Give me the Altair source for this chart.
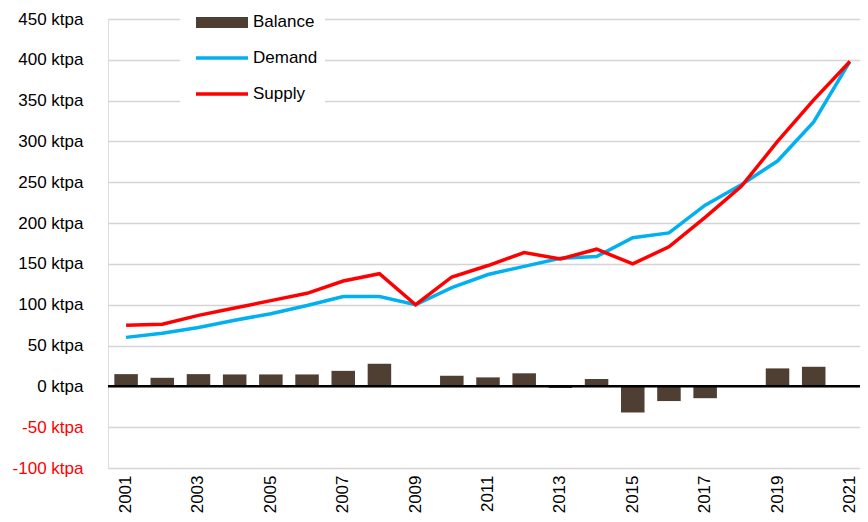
import altair as alt
import pandas as pd

years = list(range(2001, 2022))
supply = [75, 76, 87, 96, 105, 114, 129, 138, 100, 134, 148, 164, 156, 168, 150, 171, 207, 245, 300, 351, 398]
demand = [60, 65, 72, 81, 89, 99, 110, 110, 100, 121, 137, 147, 157, 159, 182, 188, 222, 247, 276, 324, 398]
balance = [15, 10.5, 15, 14.6, 14.6, 14.6, 19, 27.7, 0, 13, 11, 16, -2, 9, -32, -18, -14.5, 1.5, 22, 24, 0]
y_ticks = list(range(-100, 451, 50))
x_ticks = list(range(2001, 2022, 2))
series_names = ["Balance", "Demand", "Supply"]
series_colors = ["#4f3f33", "#00b0f0", "#ff0000"]

FONT = "Liberation Sans"

bal_df = pd.DataFrame({"year": years, "value": balance})
line_df = pd.DataFrame({
    "year": years * 2,
    "value": demand + supply,
    "series": ["Demand"] * len(years) + ["Supply"] * len(years),
})

x_enc = alt.X(
    "year:O",
    scale=alt.Scale(range=[0, 760], paddingInner=0.35, paddingOuter=0.175),
    axis=alt.Axis(
        values=x_ticks, labelAngle=-90, labelFontSize=17, labelFont=FONT,
        labelColor="#000000", domain=False, ticks=False, grid=False,
        labelPadding=7, title=None,
    ),
)
y_scale = alt.Scale(domain=[-100, 450], nice=False)
y_axis = alt.Axis(
    values=y_ticks, labelExpr="datum.value + ' ktpa'", labelFontSize=17, labelFont=FONT,
    labelColor={"expr": "datum.value < 0 ? '#ff0000' : '#000000'"},
    domain=False, ticks=False, grid=True, gridColor="#d4d4d4", gridWidth=1.5,
    labelPadding=25, title=None,
)

bars = alt.Chart(bal_df).mark_bar(color=series_colors[0]).encode(
    x=x_enc,
    y=alt.Y("value:Q", scale=y_scale, axis=y_axis),
)

zero = alt.Chart(pd.DataFrame({"z": [0]})).mark_rule(color="#000000", strokeWidth=2.5).encode(
    y=alt.Y("z:Q", scale=y_scale)
)

lines = alt.Chart(line_df).mark_line(strokeWidth=3.5).encode(
    x=alt.X("year:O"),
    y=alt.Y("value:Q", scale=y_scale),
    color=alt.Color("series:N", scale=alt.Scale(domain=series_names[1:], range=series_colors[1:]), legend=None),
    order=alt.Order("series:N"),
)

one = pd.DataFrame({"k": [0]})
legend_bg = alt.Chart(one).mark_rect(color="#ffffff").encode(
    x=alt.value(72), x2=alt.value(217), y=alt.value(-14), y2=alt.value(93)
)
leg_bal = alt.Chart(one).mark_rect(color=series_colors[0]).encode(
    x=alt.value(88), x2=alt.value(140), y=alt.value(-2), y2=alt.value(9)
)
leg_dem = alt.Chart(one).mark_rule(color=series_colors[1], strokeWidth=3.5).encode(
    x=alt.value(88), x2=alt.value(140), y=alt.value(39)
)
leg_sup = alt.Chart(one).mark_rule(color=series_colors[2], strokeWidth=3.5).encode(
    x=alt.value(88), x2=alt.value(140), y=alt.value(75)
)
leg_text = []
for name, yy in zip(series_names, [3, 39, 75]):
    leg_text.append(
        alt.Chart(pd.DataFrame({"label": [name]})).mark_text(
            align="left", baseline="middle", fontSize=17, font=FONT, color="#000000"
        ).encode(x=alt.value(145), y=alt.value(yy), text="label:N")
    )

chart = alt.layer(
    bars, zero, lines, legend_bg, leg_bal, leg_dem, leg_sup, *leg_text
).properties(
    width=752, height=449,
    autosize=alt.AutoSizeParams(type="none"),
    padding={"left": 100, "top": 11, "right": 0, "bottom": 46},
).configure_view(stroke=None).configure(background="#ffffff")

chart.save("out.html", embed_options={"renderer": "svg", "actions": False})
